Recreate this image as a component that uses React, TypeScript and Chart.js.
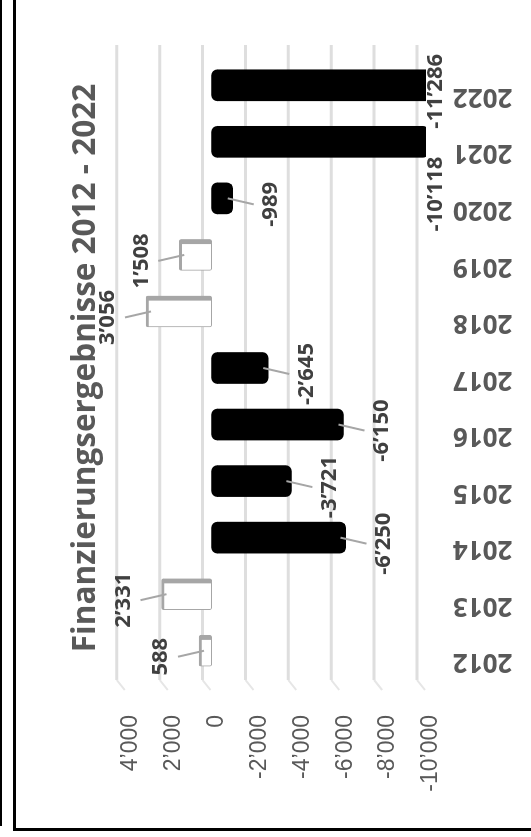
import React, { useEffect, useRef } from "react";
import { Chart, registerables } from "chart.js";

Chart.register(...registerables);

// ---- data ----
const years = ["2012", "2013", "2014", "2015", "2016", "2017", "2018", "2019", "2020", "2021", "2022"];
const results = [588, 2331, -6250, -3721, -6150, -2645, 3056, 1508, -989, -10118, -11286];
const valueTicks = [4000, 2000, 0, -2000, -4000, -6000, -8000, -10000];
const titleText = "Finanzierungsergebnisse 2012 - 2022";

function fmt(v: number): string {
  const s = Math.abs(v).toString().replace(/\B(?=(\d{3})+(?!\d))/g, "\u2019");
  return (v < 0 ? "-" : "") + s;
}

// gridlines drawn on the "back wall" of the 3D plot (slightly shifted)
const gridPlugin = {
  id: "backGrid",
  beforeDatasetsDraw(chart: any) {
    const { ctx, chartArea, scales } = chart;
    ctx.save();
    for (const v of valueTicks) {
      const p = scales.y.getPixelForValue(v) - 9;
      ctx.strokeStyle = "#dedede";
      ctx.lineWidth = 3;
      ctx.beginPath();
      ctx.moveTo(chartArea.left - 1, p);
      ctx.lineTo(chartArea.right + 12, p);
      ctx.stroke();
      ctx.strokeStyle = "#e6e6e6";
      ctx.lineWidth = 2;
      ctx.beginPath();
      ctx.moveTo(chartArea.left - 1, p);
      ctx.lineTo(chartArea.left - 11, p + 8);
      ctx.stroke();
    }
    ctx.restore();
  },
};

const labelPlugin = {
  id: "barLabels",
  afterDatasetsDraw(chart: any) {
    const { ctx, chartArea, scales } = chart;
    const yScale = scales.y;
    const meta = chart.getDatasetMeta(0);
    ctx.save();
    ctx.font = "bold 22px 'Open Sans'";
    ctx.textAlign = "center";
    ctx.textBaseline = "middle";
    const placed: any[] = [];
    const half = 8;
    for (let i = results.length - 1; i >= 0; i--) {
      const v = results[i];
      const bar = meta.data[i];
      const raw = yScale.getPixelForValue(v);
      const clipped = raw > chartArea.bottom || raw < chartArea.top;
      const endPx = Math.max(chartArea.top, Math.min(chartArea.bottom, raw));
      const gap = clipped ? 10 : 38;
      const ly = v >= 0 ? endPx - gap : endPx + gap;
      const text = fmt(v);
      const w = ctx.measureText(text).width;
      let lx = bar.x - 6;
      for (const p of placed) {
        if (Math.abs(p.ly - ly) < 24 && lx + w / 2 + 28 > p.lx - p.w / 2 && lx - w / 2 < p.lx + p.w / 2) {
          lx = p.lx - p.w / 2 - 28 - w / 2;
        }
      }
      placed.push({ lx, ly, w });
      if (!clipped) {
        ctx.strokeStyle = "#a6a6a6";
        ctx.lineWidth = 2;
        ctx.beginPath();
        if (v >= 0) {
          ctx.moveTo(bar.x, endPx + 5);
          ctx.lineTo(lx, ly + half + 9);
        } else {
          ctx.moveTo(bar.x, endPx - 5);
          ctx.lineTo(lx, ly - half - 9);
        }
        ctx.stroke();
      }
      ctx.fillStyle = "#404040";
      ctx.fillText(text, lx, ly);
    }
    ctx.restore();
  },
};

export default function App() {
  const ref = useRef<HTMLCanvasElement>(null);

  useEffect(() => {
    const chart = new Chart(ref.current as HTMLCanvasElement, {
      type: "bar",
      data: {
        labels: years,
        datasets: [
          {
            data: results,
            backgroundColor: results.map((v) => (v >= 0 ? "#ffffff" : "#000000")),
            borderColor: results.map((v) => (v >= 0 ? "#a6a6a6" : "#000000")),
            borderWidth: results.map((v) =>
              v >= 0 ? { top: 3, right: 5, left: 1, bottom: 1 } : 0
            ) as any,
            borderRadius: results.map((v) => (v >= 0 ? 2 : 6)) as any,
            borderSkipped: false,
            barThickness: 31,
          },
        ],
      },
      options: {
        responsive: false,
        animation: false,
        layout: { padding: { left: 45, right: 57, top: 0, bottom: 0 } },
        plugins: {
          legend: { display: false },
          tooltip: { enabled: false },
          title: {
            display: true,
            fullSize: false,
            text: titleText,
            color: "#595959",
            font: { family: "Open Sans", size: 31.5, weight: "bold", lineHeight: 1.2 },
            padding: { top: 67, bottom: 21 },
          },
        },
        scales: {
          x: {
            grid: { display: false, drawTicks: false },
            border: { display: false },
            ticks: {
              autoSkip: false,
              minRotation: 90,
              maxRotation: 90,
              padding: 27,
              labelOffset: -11,
              color: "#595959",
              font: { family: "Open Sans", size: 26, weight: "bold" },
            },
            afterFit: (s: any) => {
              s.height = 105;
            },
          },
          y: {
            min: -10000,
            max: 4000,
            afterBuildTicks: (s: any) => {
              s.ticks = valueTicks.map((v) => ({ value: v }));
            },
            grid: { display: false, drawTicks: false },
            border: { display: false },
            ticks: {
              padding: 36,
              labelOffset: 5,
              color: "#595959",
              font: { family: "Liberation Sans", size: 23 },
              callback: (v: any) => fmt(Number(v)),
            },
            afterFit: (s: any) => {
              s.width = 113;
            },
          },
        },
      },
      plugins: [gridPlugin, labelPlugin],
    });
    return () => chart.destroy();
  }, []);

  return (
    <div
      style={{
        position: "fixed",
        left: 0,
        top: 0,
        width: 531,
        height: 837,
        overflow: "hidden",
        background: "#ffffff",
      }}
    >
      <div
        style={{
          position: "absolute",
          left: 0,
          top: 0,
          width: 837,
          height: 531,
          transformOrigin: "0 0",
          transform: "translateY(837px) rotate(-90deg)",
        }}
      >
        <canvas ref={ref} width={837} height={531} style={{ display: "block" }} />
      </div>
      <div style={{ position: "absolute", left: 0, top: 0, width: 2, height: 826, background: "#000" }} />
      <div style={{ position: "absolute", left: 13, top: 0, width: 3, height: 831, background: "#000" }} />
      <div style={{ position: "absolute", left: 13, top: 828, width: 518, height: 3, background: "#000" }} />
    </div>
  );
}
